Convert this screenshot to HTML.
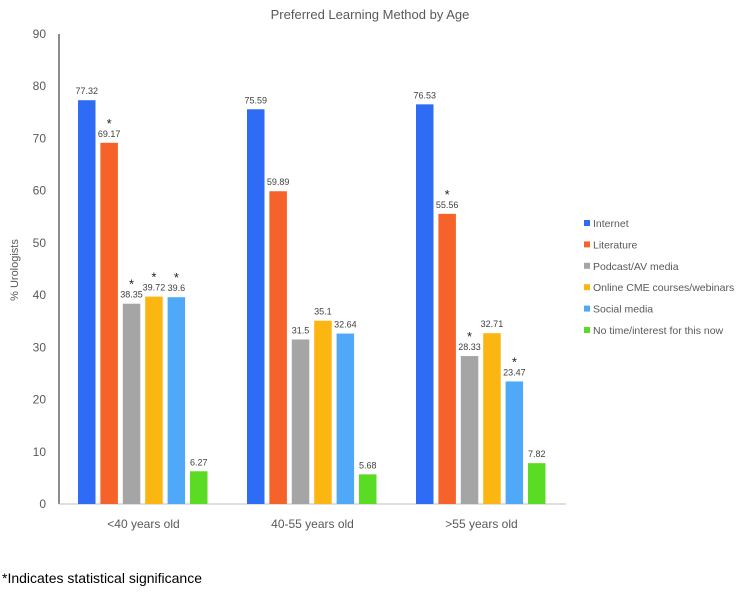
<!DOCTYPE html>
<html><head><meta charset="utf-8"><style>
body{margin:0;background:#fff;font-family:"Liberation Sans",sans-serif;}
svg text{font-family:"Liberation Sans",sans-serif;}
</style></head><body>
<svg width="740" height="587">
<text x="370" y="19" text-anchor="middle" font-size="13" fill="#595959">Preferred Learning Method by Age</text>
<text transform="translate(18,270) rotate(-90)" text-anchor="middle" font-size="11" fill="#595959">% Urologists</text>
<g id="yaxis"></g>
<g id="bars"></g>
<g id="legend"></g>
<text x="2" y="583" font-size="14" fill="#000">*Indicates statistical significance</text>
</svg>
<script>
const categories=["<40 years old","40-55 years old",">55 years old"];
const seriesNames=["Internet","Literature","Podcast/AV media","Online CME courses/webinars","Social media","No time/interest for this now"];
const colors=["#2f6cf6","#f5622a","#a5a5a5","#fbb612","#4fa9f8","#5bdc24"];
const internet=[77.32,75.59,76.53];
const literature=[69.17,59.89,55.56];
const podcast=[38.35,31.5,28.33];
const onlineCme=[39.72,35.1,32.71];
const socialMedia=[39.6,32.64,23.47];
const noTime=[6.27,5.68,7.82];
const significant=[[false,false,false],[true,false,true],[true,false,true],[true,false,false],[true,false,true],[false,false,false]];
const yTicks=[0,10,20,30,40,50,60,70,80,90];
const series=[internet,literature,podcast,onlineCme,socialMedia,noTime];
const NS="http://www.w3.org/2000/svg";
const x0=59,catW=169,y0=504,yTop=34,yMax=90;
const y=v=>y0-(v/yMax)*(y0-yTop);
const barW=17.5,step=22.4;
function mk(t,a,p){const e=document.createElementNS(NS,t);for(const k in a)e.setAttribute(k,a[k]);p.appendChild(e);return e;}
const ya=document.getElementById('yaxis');
yTicks.forEach(t=>{const e=mk('text',{x:46,y:y(t)+4,'text-anchor':'end','font-size':12,fill:'#595959'},ya);


e.textContent=t;});
const ax=mk('line',{x1:x0,y1:yTop,x2:x0,y2:y0,stroke:'#666','stroke-width':1.5},ya);


const xl=mk('line',{x1:x0,y1:y0,x2:x0+catW*3,y2:y0,stroke:'#bfbfbf','stroke-width':1},ya);


const bg=document.getElementById('bars');
categories.forEach((c,i)=>{
 const cx=x0+catW*(i+0.5);
 const lt=mk('text',{x:cx,y:y0+24,'text-anchor':'middle','font-size':12,fill:'#595959'},bg);
 
 
 lt.textContent=c;
 series.forEach((s,j)=>{
  const bx=cx-65.5+j*step;
  const r=mk('rect',{x:bx,y:y(s[i]),width:barW,height:y0-y(s[i]),fill:colors[j]},bg);
  
  
  const lb=mk('text',{x:bx+barW/2,y:y(s[i])-6,'text-anchor':'middle','font-size':9,fill:'#404040'},bg);
  
  
  lb.textContent=s[i];
  if(significant[j][i]){const st=mk('text',{x:bx+barW/2,y:y(s[i])-15,'text-anchor':'middle','font-size':13,fill:'#222'},bg);
   
   
   st.textContent='*';}
 });
});
const lg=document.getElementById('legend');
seriesNames.forEach((n,j)=>{
 const ly=224+j*21.4;
 const g=mk('g',{},lg);
 
 
 mk('rect',{x:584,y:ly-4,width:6,height:6,fill:colors[j]},g);
 const t=mk('text',{x:593,y:ly+3,'font-size':10.5,fill:'#595959'},g);
 t.textContent=n;
});
</script>
</body></html>
